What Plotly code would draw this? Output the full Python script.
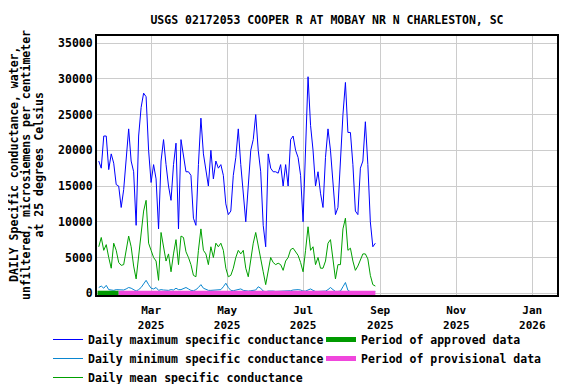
import pandas as pd
import plotly.graph_objects as go

# daily values read every second day, 2025-01-18 .. 2025-08-28
dates = pd.date_range("2025-01-18", periods=112, freq="2D")

max_sc = [
    18500, 17500, 22000, 22000, 17300, 19500, 18200, 15200,
    15000, 12000, 14500, 18500, 23000, 18500, 17000, 9500,
    22000, 26000, 28000, 27500, 20000, 15500, 18000, 16000,
    9000, 18500, 21500, 18000, 15000, 13000, 18000, 21000,
    9000, 21500, 19500, 17000, 17000, 16500, 10500, 9500,
    18000, 24500, 19500, 17000, 15000, 20000, 16000, 18500,
    17500, 18000, 16500, 12500, 11000, 11500, 16500, 19000,
    23000, 18000, 14500, 10000, 15000, 20000, 21500, 25000,
    20000, 17000, 9500, 6500, 19500, 17500, 17000, 17000,
    16800, 18000, 15000, 18000, 15000, 21500, 22000, 20000,
    19000, 16500, 10000, 19000, 30300, 23500, 20000, 15000,
    17000, 14000, 12000, 19000, 23000, 20000, 15000, 11000,
    12000, 18500, 25000, 29500, 22500, 22500, 18000, 11500,
    11000, 17500, 18500, 24000, 18000, 10000, 6500, 7000,
]

mean_sc = [
    6500, 7800, 6000, 6800, 5000, 3500, 7000, 6000,
    4300, 3900, 4000, 6300, 8000, 6500, 3800, 2000,
    5500, 8500, 11500, 13000, 7000, 6000, 5000, 4500,
    1800, 8500, 6500, 4500, 5500, 3000, 5500, 7500,
    4000, 8000, 7800, 5800, 5000, 4000, 2500, 2300,
    6000, 9000, 6000, 5500, 4000, 6500, 5000, 7000,
    6500, 7000, 6000, 3500, 2300, 2500, 3500, 5000,
    6000, 5500, 6000, 3500, 2300, 4500, 7000, 8500,
    6500, 5000, 3000, 1200, 3000, 5000, 4300, 4000,
    4200, 4000, 3200, 4500, 5000, 6100, 6300, 5800,
    5300, 4300, 3000, 6000, 9300, 6000, 6500, 4000,
    5000, 3500, 3500, 4500, 7000, 7500, 4500, 2000,
    4000, 4000, 9000, 10500, 6000, 6300, 4500, 3200,
    3800, 4800, 5500, 5500, 4800, 2500, 1200, 1000,
]

min_sc = [
    800, 1000, 700, 1100, 500, 400, 400, 500,
    450, 400, 450, 600, 800, 700, 450, 300,
    500, 800, 1300, 1800, 1200, 700, 600, 800,
    400, 500, 450, 400, 400, 500, 450, 700,
    500, 500, 700, 800, 600, 400, 350, 500,
    800, 1200, 700, 500, 400, 400, 450, 400,
    450, 500, 900, 1400, 800, 400, 350, 400,
    500, 600, 400, 300, 300, 350, 400, 450,
    900, 700, 300, 200, 300, 350, 300, 250,
    250, 250, 250, 250, 300, 350, 450, 500,
    500, 450, 300, 300, 500, 600, 400, 250,
    250, 250, 250, 300, 500, 800, 500, 250,
    250, 300, 900, 1500, 400, 200, 200, 200,
    200, 200, 200, 200, 200, 200, 200, 200,
]

approved_dates = ["2025-01-17", "2025-02-03"]
provisional_dates = ["2025-02-03", "2025-08-28"]

tick_dates = ["2025-03-01", "2025-05-01", "2025-07-01", "2025-09-01", "2025-11-01", "2026-01-01"]
tick_text = ["Mar<br>2025", "May<br>2025", "Jul<br>2025", "Sep<br>2025", "Nov<br>2025", "Jan<br>2026"]
y_ticks = [0, 5000, 10000, 15000, 20000, 25000, 30000, 35000]

y_title_lines = [
    "DAILY Specific conductance, water,",
    "unfiltered, microsiemens per centimeter",
    "at 25 degrees Celsius",
]

FONT = "DejaVu Sans Mono"
W, H = 576, 384
# the page body adds an 8 px offset, so positions are given 8 px up/left
L, R, T, B = 89, 27, 28, 97
PLOT_W = W - L - R
PLOT_H = H - T - B
PLOT_BOTTOM = H - B
LEGEND_TOP = 317

fig = go.Figure()

fig.add_trace(go.Scatter(x=dates, y=max_sc, mode="lines", name="Daily maximum specific conductance",
                         line=dict(color="#0000ff", width=1), legend="legend", legendrank=1))
fig.add_trace(go.Scatter(x=dates, y=mean_sc, mode="lines", name="Daily mean specific conductance",
                         line=dict(color="#00a000", width=1), legend="legend", legendrank=3))
fig.add_trace(go.Scatter(x=dates, y=min_sc, mode="lines", name="Daily minimum specific conductance",
                         line=dict(color="#0a86d0", width=1), legend="legend", legendrank=2))
fig.add_trace(go.Scatter(x=approved_dates, y=[0, 0], mode="lines", name="Period of approved data",
                         line=dict(color="#009a00", width=5), legend="legend2", legendrank=1))
fig.add_trace(go.Scatter(x=provisional_dates, y=[0, 0], mode="lines", name="Period of provisional data",
                         line=dict(color="#f046dc", width=5), legend="legend2", legendrank=2))

legend_style = dict(
    orientation="v",
    xref="paper",
    xanchor="left",
    yref="container",
    y=(H - LEGEND_TOP) / H, yanchor="top",
    itemwidth=30,
    tracegroupgap=0,
    bgcolor="rgba(0,0,0,0)",
    font=dict(family=FONT, size=11.5, weight="bold"),
)

axis_style = dict(
    showgrid=True,
    gridcolor="#cccccc",
    gridwidth=1,
    showline=True,
    linecolor="black",
    linewidth=2,
    mirror=True,
    ticks="",
    zeroline=False,
    automargin=False,
)

fig.update_layout(
    width=W,
    height=H,
    margin=dict(l=L, r=R, t=T, b=B),
    paper_bgcolor="white",
    plot_bgcolor="white",
    font=dict(family=FONT, size=11.5, color="black", weight="bold"),
    title=dict(
        text="USGS 02172053 COOPER R AT MOBAY NR N CHARLESTON, SC",
        x=0.5, xref="paper", xanchor="center",
        y=1 - 12 / H, yref="container", yanchor="middle",
        font=dict(family=FONT, size=11.5, weight="bold"),
    ),
    xaxis=dict(
        axis_style,
        range=["2025-01-16 14:00", "2026-01-20 20:00"],
        tickvals=tick_dates,
        ticktext=tick_text,
        ticklabelstandoff=4,
        tickfont=dict(family=FONT, size=11, weight="bold"),
    ),
    yaxis=dict(
        axis_style,
        range=[-250, 36000],
        tickvals=y_ticks,
        tickformat="d",
    ),
    legend=dict(legend_style, x=(40 - L) / PLOT_W),
    legend2=dict(legend_style, x=(313 - L) / PLOT_W),
    showlegend=True,
)

# y axis title, one annotation per line
for x_px, line in zip([6, 18, 30.5], y_title_lines):
    fig.add_annotation(
        text=line,
        xref="paper", yref="paper",
        x=(x_px - L) / PLOT_W, y=(PLOT_BOTTOM - 157) / PLOT_H,
        xanchor="center", yanchor="middle",
        textangle=-90,
        showarrow=False,
        font=dict(family=FONT, size=11.5, weight="bold"),
    )

fig.write_html("out.html")
